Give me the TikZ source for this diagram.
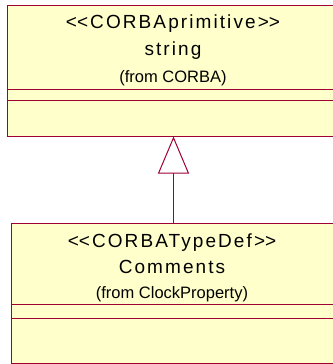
\documentclass[tikz,border=0pt]{standalone}
\usepackage{fontspec}
\setmainfont{Liberation Sans}
\usetikzlibrary{arrows.meta}
\definecolor{umlred}{RGB}{160,0,50}
\definecolor{umlfill}{RGB}{255,255,204}
\newcommand{\stopen}{<\kern0pt<}
\newcommand{\stclose}{>\kern0pt>}
\tikzset{classbox/.style = {draw=umlred, fill=umlfill, line width=1pt, inner sep=0},
  stereo/.style = {anchor=base, font=\fontsize{19}{21}\selectfont\addfontfeature{LetterSpace=11}},
  origin/.style = {anchor=base, font=\fontsize{16.5}{18}\selectfont},
  inherit/.style = {draw=umlred, line width=1pt, -{Triangle[open, length=37pt, width=31pt]}}}

\begin{document}
\begin{tikzpicture}[x=1pt, y=-1pt]
      \useasboundingbox (0, 0) rectangle (332, 364);

      % the two classes
      \node [classbox, minimum width=333pt, minimum height=131pt] (string) at (173.5, 70.5) {};
      \node [classbox, minimum width=322pt, minimum height=140pt] (comments) at (172, 293) {};

      % compartments
      \draw [umlred, line width=1pt] (7, 89) -- (340, 89);
      \draw [umlred, line width=1pt] (7, 100) -- (340, 100);
      \draw [umlred, line width=1pt] (11, 304) -- (333, 304);
      \draw [umlred, line width=1pt] (11, 318) -- (333, 318);
      \draw [umlred, line width=1.8pt] (string.south west) -- (string.south east);
      \draw [umlred, line width=1.4pt] (comments.south west) -- (comments.south east);

      % labels
      \node [stereo] (stringstereo) at (173, 28.5) {\stopen CORBAprimitive\stclose};
      \node [stereo] (stringname) at (173, 55) {string};
      \node [origin] (stringfrom) at (173, 82) {(from CORBA)};
      \node [stereo] (commentsstereo) at (172, 247) {\stopen CORBATypeDef\stclose};
      \node [stereo] (commentsname) at (172, 273) {Comments};
      \node [origin] (commentsfrom) at (172, 298) {(from ClockProperty)};

      % generalization
      \draw [inherit] (comments.north -| string.south) -- (string.south);
    \end{tikzpicture}
\end{document}
